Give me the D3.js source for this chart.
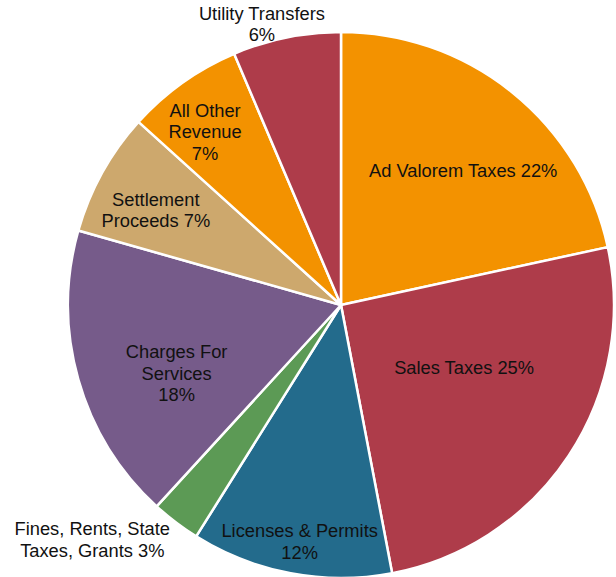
<!DOCTYPE html>
<html>
<head>
<meta charset="utf-8">
<script src="https://cdn.jsdelivr.net/npm/d3@7"></script>
<style>
  html, body { margin: 0; padding: 0; background: #fff; }
  svg text { font-family: "Liberation Sans", Arial, Helvetica, sans-serif; fill: #111; }
</style>
</head>
<body>
<div id="chart"></div>
<script>
// revenue shares (percent), clockwise from 12 o'clock
const categories = [
  "Ad Valorem Taxes",
  "Sales Taxes",
  "Licenses & Permits",
  "Fines, Rents, State Taxes, Grants",
  "Charges For Services",
  "Settlement Proceeds",
  "All Other Revenue",
  "Utility Transfers"
];
const shares = [21.6, 25.4, 11.9, 2.9, 17.6, 7.3, 6.9, 6.4];
const colors = ["#f39200", "#ae3c4a", "#236b8c", "#5c9a55", "#765b8a", "#cda86d", "#f39200", "#ae3c4a"];

// how each label is broken on lines ({p} = rounded percent)
const labelLines = [
  ["Ad Valorem Taxes {p}%"],
  ["Sales Taxes {p}%"],
  ["Licenses & Permits", "{p}%"],
  ["Fines, Rents, State", "Taxes, Grants {p}%"],
  ["Charges For", "Services", "{p}%"],
  ["Settlement", "Proceeds {p}%"],
  ["All Other", "Revenue", "{p}%"],
  ["Utility Transfers", "{p}%"]
];

// label placement: radius from centre and angle nudge (degrees) from slice mid-angle
const labelRadius = [182, 138, 240, 342, 178, 208, 220, 292];
const labelNudge = [3.3, -6.6, -0.7, 9.4, -6.7, -1.9, -2.7, -4.2];

const width = 616, height = 577;
const cx = 341, cy = 305, radius = 273;
const fontSize = 18.3, lineHeight = 21.5;

const data = categories.map((c, i) => ({ name: c, value: shares[i], i }));

const svg = d3.select("#chart")
  .append("svg")
  .attr("width", width)
  .attr("height", height);

const g = svg.append("g").attr("transform", `translate(${cx},${cy})`);

const pie = d3.pie().value(d => d.value).sort(null);
const arc = d3.arc().innerRadius(0).outerRadius(radius);
const arcs = pie(data);

g.selectAll("path.slice")
  .data(arcs)
  .enter()
  .append("path")
  .attr("class", "slice")
  .attr("d", arc)
  .attr("fill", d => colors[d.data.i])
  .attr("stroke", "#fff")
  .attr("stroke-width", 2.5)
  .attr("stroke-linejoin", "round");

// labels
g.selectAll("text.label")
  .data(arcs)
  .enter()
  .append("text")
  .attr("class", "label")
  .attr("text-anchor", "middle")
  .style("font-size", `${fontSize}px`)
  .each(function (d) {
    const i = d.data.i;
    const mid = (d.startAngle + d.endAngle) / 2 + labelNudge[i] * Math.PI / 180;
    const r = labelRadius[i];
    const x = r * Math.sin(mid);
    const y = -r * Math.cos(mid);
    const pct = Math.round(d.data.value);
    const lines = labelLines[i].map(s => s.replace("{p}", pct));
    const n = lines.length;
    const t = d3.select(this);
    lines.forEach((line, k) => {
      t.append("tspan")
        .attr("x", x)
        .attr("y", y + (k - (n - 1) / 2) * lineHeight)
        .attr("dy", "0.35em")
        .text(line);
    });
  });
</script>
</body>
</html>
